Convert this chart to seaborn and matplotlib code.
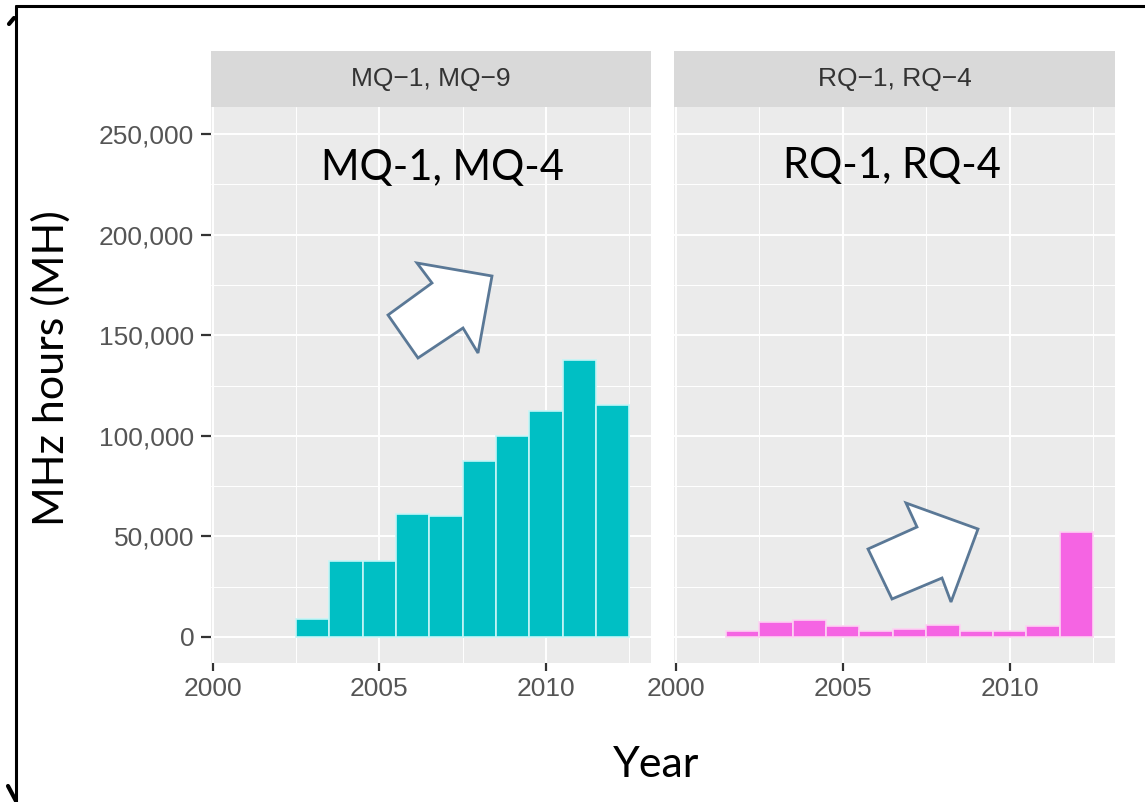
import matplotlib
matplotlib.use("Agg")
import matplotlib.pyplot as plt
import seaborn as sns
from matplotlib.patches import Rectangle, Polygon
from matplotlib.lines import Line2D
from matplotlib.ticker import FuncFormatter, FixedLocator

# ---------------- data ----------------
panel_titles = ["MQ\u22121, MQ\u22129", "RQ\u22121, RQ\u22124"]
overlay_titles = ["MQ-1, MQ-4", "RQ-1, RQ-4"]

mq_years = [2003, 2004, 2005, 2006, 2007, 2008, 2009, 2010, 2011, 2012]
mq_hours = [9000, 37500, 37500, 61000, 60000, 87500, 100000, 112500, 137500, 115500]

rq_years = [2002, 2003, 2004, 2005, 2006, 2007, 2008, 2009, 2010, 2011, 2012]
rq_hours = [2800, 7400, 8200, 5400, 2800, 3800, 5700, 2800, 2800, 5400, 52000]

x_ticks = [2000, 2005, 2010]
y_ticks = [0, 50000, 100000, 150000, 200000, 250000]

x_label = "Year"
y_label = "MHz hours (MH)"

# ---------------- style ----------------
sns.set_theme(style="darkgrid")
plt.rcParams["font.family"] = ["Liberation Sans", "DejaVu Sans"]

W, H = 1145, 802
fig = plt.figure(figsize=(W / 100, H / 100), dpi=100)
fig.patch.set_facecolor("white")


def fx(px):
    return px / W


def fy(py):
    return 1 - py / H


panel_top, panel_bot = 107, 663
strip_top = 51
lefts = [211, 674]
rights = [651, 1115]

series = [(mq_years, mq_hours, "#00BFC4", "#C4F5F6"),
          (rq_years, rq_hours, "#F564E3", "#FCD2F2")]

axes = []
for i in range(2):
    ax = fig.add_axes([fx(lefts[i]), fy(panel_bot), fx(rights[i] - lefts[i]),
                       (panel_bot - panel_top) / H])
    axes.append(ax)
    yrs, hrs, col, edge = series[i]
    sns.histplot(x=yrs, weights=hrs, discrete=True, shrink=1.0, ax=ax,
                 color=col, edgecolor=edge, linewidth=1.2, alpha=1.0,
                 stat="count", legend=False)
    ax.set_facecolor("#EBEBEB")
    ax.set_xlim(1999.95, 2013.15)
    ax.set_ylim(-13000, 263500)
    ax.xaxis.set_major_locator(FixedLocator(x_ticks))
    ax.xaxis.set_minor_locator(FixedLocator([2002.5, 2007.5, 2012.5]))
    ax.yaxis.set_major_locator(FixedLocator(y_ticks))
    ax.yaxis.set_minor_locator(FixedLocator([25000, 75000, 125000, 175000, 225000]))
    ax.grid(which="major", color="white", linewidth=1.4)
    ax.grid(which="minor", color="white", linewidth=0.7)
    ax.set_axisbelow(True)
    for s in ax.spines.values():
        s.set_visible(False)
    ax.set_xlabel("")
    ax.set_ylabel("")
    ax.tick_params(axis="x", which="major", length=6, width=1.6, color="#333333",
                   labelsize=19, labelcolor="#555555", pad=4, bottom=True)
    ax.tick_params(axis="x", which="minor", length=0)
    ax.tick_params(axis="y", which="minor", length=0)
    if i == 0:
        ax.tick_params(axis="y", which="major", length=7, width=1.6, color="#333333",
                       labelsize=19, labelcolor="#555555", pad=5, left=True)
        ax.yaxis.set_major_formatter(FuncFormatter(lambda v, p: f"{int(v):,}"))
    else:
        ax.tick_params(axis="y", which="major", length=0, labelleft=False)
    # facet strip
    sh = (panel_top - strip_top) / (panel_bot - panel_top)
    ax.add_patch(Rectangle((0, 1), 1, sh, transform=ax.transAxes, clip_on=False,
                           facecolor="#D9D9D9", edgecolor="none"))
    ax.text(0.5, 1 + sh / 2, panel_titles[i], transform=ax.transAxes,
            ha="center", va="center", fontsize=19, color="#333333")

# overlay annotations (slide text)
big_font = ["Lato", "DejaVu Sans"]
fig.text(fx(442), fy(168), overlay_titles[0], ha="center", va="center",
         fontsize=30, family=big_font, color="black")
fig.text(fx(892), fy(166), overlay_titles[1], ha="center", va="center",
         fontsize=30, family=big_font, color="black")
fig.text(fx(656), fy(765), x_label, ha="center", va="center",
         fontsize=31, family=big_font, color="black")
fig.text(fx(51), fy(368), y_label, ha="center", va="center", rotation=90,
         fontsize=31, family=big_font, color="black")

# block arrows
arrow1 = [(492, 276), (417, 263), (432, 283), (388, 315), (418, 358), (463, 328), (478, 353)]
arrow2 = [(978, 529), (906, 503), (917, 527), (868, 549), (892, 599), (942, 578), (951, 602)]
for pts in (arrow1, arrow2):
    fig.patches.append(Polygon([(fx(a), fy(b)) for a, b in pts], closed=True,
                               transform=fig.transFigure, facecolor="white",
                               edgecolor="#5A7896", linewidth=2.0, zorder=10))

# slide frame
fig.add_artist(Line2D([fx(16), fx(16)], [fy(6), fy(802)], color="black", linewidth=2.2))
fig.add_artist(Line2D([fx(16), fx(1145)], [fy(6), fy(6)], color="black", linewidth=2.2))
fig.add_artist(Line2D([fx(9), fx(14)], [fy(24), fy(18)], color="black", linewidth=3))
fig.add_artist(Line2D([fx(8), fx(16)], [fy(786), fy(801)], color="black", linewidth=3))

fig.savefig("out.png", dpi=100, facecolor="white")
